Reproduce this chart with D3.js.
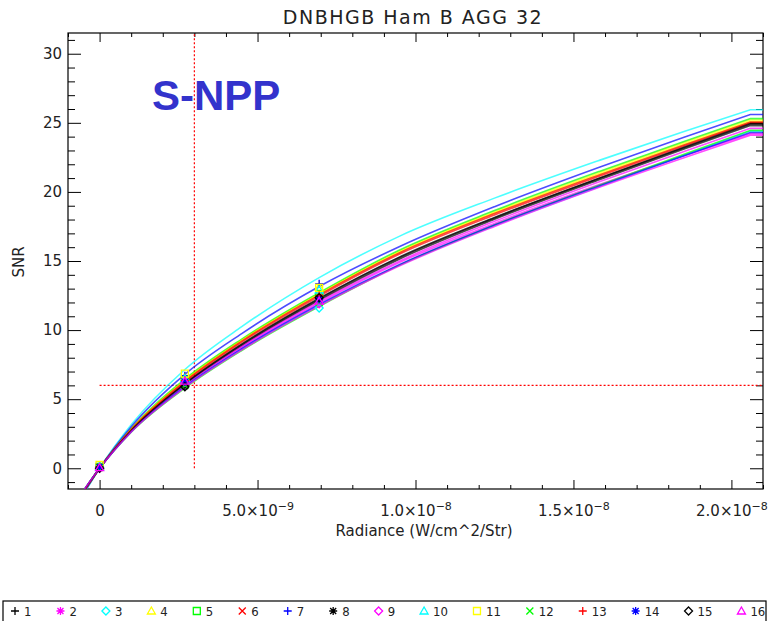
<!DOCTYPE html>
<html>
<head>
<meta charset="utf-8">
<script src="https://cdn.jsdelivr.net/npm/d3@7"></script>
<style>
  body { margin: 0; background: #fff; }
  svg { display: block; font-family: "DejaVu Sans", sans-serif; }
</style>
</head>
<body>
<div id="chart"></div>
<script>
var radiance = [-0.6e-9, 0, 1e-9, 2.7e-9, 4.5e-9, 6.95e-9, 9.5e-9, 12.5e-9, 15.84e-9, 18.5e-9, 20.6e-9];
// radiance of the measured points
var pointRadiance = [0, 2.7e-9, 6.95e-9];

var seriesNames = ["1", "2", "3", "4", "5", "6", "7", "8", "9", "10", "11", "12", "13", "14", "15", "16"];
var seriesColors = ["#000000", "#FF00FF", "#00FFFF", "#FFFF00", "#00FF00", "#FF0000", "#0000FF",
  "#000000", "#FF00FF", "#00FFFF", "#FFFF00", "#00FF00", "#FF0000", "#0000FF", "#000000", "#FF00FF"];
var seriesSymbols = ["plus", "asterisk", "diamond", "triangle", "square", "x", "plus", "asterisk",
  "diamond", "triangle", "square", "x", "plus", "asterisk", "diamond", "triangle"];

// fitted SNR, one row per series (values at the radiance samples above)
var fitSNR = [
  [-2.0, 0, 2.75, 6.15, 9.0, 12.3, 15.3, 18.15, 21.0, 23.2, 24.9],
  [-1.95, 0, 2.67, 5.95, 8.72, 11.95, 14.9, 17.72, 20.55, 22.62, 24.2],
  [-2.25, 0, 3.15, 7.15, 10.25, 13.8, 16.8, 19.55, 22.3, 24.38, 25.95],
  [-2.06, 0, 2.85, 6.4, 9.3, 12.65, 15.7, 18.55, 21.4, 23.55, 25.2],
  [-2.08, 0, 2.87, 6.45, 9.35, 12.7, 15.8, 18.65, 21.5, 23.65, 25.3],
  [-2.03, 0, 2.79, 6.25, 9.13, 12.45, 15.5, 18.33, 21.15, 23.33, 25.0],
  [-2.16, 0, 3.01, 6.8, 9.75, 13.15, 16.05, 18.93, 21.8, 23.95, 25.6],
  [-1.97, 0, 2.71, 6.05, 8.87, 12.15, 15.15, 18.02, 20.9, 23.1, 24.8],
  [-1.96, 0, 2.69, 6.0, 8.8, 12.05, 15.0, 17.87, 20.75, 22.92, 24.6],
  [-1.94, 0, 2.65, 5.9, 8.62, 11.8, 14.7, 17.55, 20.4, 22.65, 24.4],
  [-2.05, 0, 2.83, 6.35, 9.25, 12.6, 15.65, 18.48, 21.3, 23.45, 25.1],
  [-1.91, 0, 2.61, 5.8, 8.52, 11.7, 14.7, 17.6, 20.5, 22.72, 24.45],
  [-2.04, 0, 2.81, 6.3, 9.2, 12.55, 15.6, 18.43, 21.25, 23.4, 25.05],
  [-1.94, 0, 2.65, 5.9, 8.65, 11.85, 14.75, 17.6, 20.45, 22.62, 24.3],
  [-1.99, 0, 2.73, 6.1, 8.95, 12.25, 15.25, 18.12, 21.0, 23.23, 24.95],
  [-1.92, 0, 2.63, 5.85, 8.57, 11.75, 14.65, 17.5, 20.35, 22.47, 24.1]
];

// measured SNR points, one row per series
var pointSNR = [
  [0.1, 6.2, 12.4],
  [0.1, 6.3, 12.2],
  [0.05, 6.1, 11.6],
  [0.15, 6.6, 13.1],
  [0.1, 6.4, 12.6],
  [0.1, 6.3, 12.5],
  [0.2, 6.7, 13.35],
  [0.05, 5.95, 12.3],
  [0.0, 6.2, 11.9],
  [0.1, 6.5, 12.9],
  [0.25, 6.85, 13.05],
  [0.05, 6.0, 12.0],
  [0.1, 6.35, 12.5],
  [0.1, 6.25, 12.2],
  [0.0, 5.9, 12.35],
  [0.05, 6.3, 12.1]
];

var xMajorTicks = [0, 5e-9, 1e-8, 1.5e-8, 2e-8];
var yMajorTicks = [0, 5, 10, 15, 20, 25, 30];

// reference lines
var refRadiance = 3e-9;
var refSNR = 6;

var width = 769,
  height = 621;

var x = d3.scaleLinear().domain([-1e-9, 2.1e-8]).range([68, 763]);
var y = d3.scaleLinear().domain([-1.5, 31.5]).range([489, 33]);

var svg = d3
  .select("#chart")
  .append("svg")
  .attr("width", width)
  .attr("height", height);

svg
  .append("defs")
  .append("clipPath")
  .attr("id", "plotClip")
  .append("rect")
  .attr("x", x.range()[0])
  .attr("y", y.range()[1])
  .attr("width", x.range()[1] - x.range()[0])
  .attr("height", y.range()[0] - y.range()[1]);

//title
svg
  .append("text")
  .attr("x", 413)
  .attr("y", 24)
  .attr("text-anchor", "middle")
  .attr("font-size", "19px")
  .attr("letter-spacing", "1.5px")
  .attr("fill", "#222")
  .text("DNBHGB Ham B AGG 32");

//helper to style an axis group
function styleAxis(g) {
  g.select(".domain").remove();
  g.attr("font-family", "DejaVu Sans, sans-serif")
    .attr("font-size", "15px")
    .attr("color", "#000");
  g.selectAll(".tick text").attr("fill", "#222");
}

var xMinor = d3.range(-1, 22).filter(function(i) { return i % 5 !== 0; }).map(function(i) { return i * 1e-9; });
var yMinor = d3.range(-1, 32).filter(function(i) { return i % 5 !== 0; });

//bottom axis with superscript labels
var gx = svg
  .append("g")
  .attr("transform", "translate(0," + y.range()[0] + ")")
  .call(d3.axisBottom(x).tickValues(xMajorTicks).tickSize(-9).tickPadding(16).tickFormat(""))
  .call(styleAxis);

gx.selectAll(".tick text").each(function(d) {
  var t = d3.select(this);
  if (d === 0) {
    t.text("0");
    return;
  }
  var parts = d.toExponential(1).split("e");
  t.append("tspan").text(parts[0] + "×10");
  t.append("tspan")
    .attr("dy", "-0.55em")
    .attr("font-size", "11px")
    .text("\u2212" + (-parseInt(parts[1])));
});

svg
  .append("g")
  .attr("transform", "translate(0," + y.range()[0] + ")")
  .call(d3.axisBottom(x).tickValues(xMinor).tickSize(-4).tickFormat(""))
  .call(styleAxis);

//top mirror axis
svg
  .append("g")
  .attr("transform", "translate(0," + y.range()[1] + ")")
  .call(d3.axisTop(x).tickValues(xMajorTicks).tickSize(-9).tickFormat(""))
  .call(styleAxis);
svg
  .append("g")
  .attr("transform", "translate(0," + y.range()[1] + ")")
  .call(d3.axisTop(x).tickValues(xMinor).tickSize(-4).tickFormat(""))
  .call(styleAxis);

//left axis
svg
  .append("g")
  .attr("transform", "translate(" + x.range()[0] + ",0)")
  .call(d3.axisLeft(y).tickValues(yMajorTicks).tickSize(-13).tickPadding(6))
  .call(styleAxis);
svg
  .append("g")
  .attr("transform", "translate(" + x.range()[0] + ",0)")
  .call(d3.axisLeft(y).tickValues(yMinor).tickSize(-7).tickFormat(""))
  .call(styleAxis);

//right mirror axis
svg
  .append("g")
  .attr("transform", "translate(" + x.range()[1] + ",0)")
  .call(d3.axisRight(y).tickValues(yMajorTicks).tickSize(-13).tickFormat(""))
  .call(styleAxis);
svg
  .append("g")
  .attr("transform", "translate(" + x.range()[1] + ",0)")
  .call(d3.axisRight(y).tickValues(yMinor).tickSize(-7).tickFormat(""))
  .call(styleAxis);

//plot frame
svg
  .append("rect")
  .attr("x", x.range()[0])
  .attr("y", y.range()[1])
  .attr("width", x.range()[1] - x.range()[0])
  .attr("height", y.range()[0] - y.range()[1])
  .attr("fill", "none")
  .attr("stroke", "#000")
  .attr("stroke-width", 1.2);

//axis titles
svg
  .append("text")
  .attr("x", 424)
  .attr("y", 536)
  .attr("text-anchor", "middle")
  .attr("font-size", "15px")
  .attr("fill", "#222")
  .text("Radiance (W/cm^2/Str)");

svg
  .append("text")
  .attr("transform", "translate(24,262) rotate(-90)")
  .attr("text-anchor", "middle")
  .attr("font-size", "15px")
  .attr("fill", "#222")
  .text("SNR");

//red dotted reference lines
svg
  .append("line")
  .attr("x1", x(refRadiance))
  .attr("x2", x(refRadiance))
  .attr("y1", y(0))
  .attr("y2", y.range()[1])
  .attr("stroke", "#FF0000")
  .attr("stroke-width", 1.2)
  .attr("stroke-dasharray", "2,2");

svg
  .append("line")
  .attr("x1", x(0))
  .attr("x2", x.range()[1])
  .attr("y1", y(refSNR))
  .attr("y2", y(refSNR))
  .attr("stroke", "#FF0000")
  .attr("stroke-width", 1.2)
  .attr("stroke-dasharray", "2,2");

//fit curves, flat after the last sample up to the right edge
var line = d3
  .line()
  .x(function(d, i) { return x(radiance[i]); })
  .y(function(d) { return y(d); })
  .curve(d3.curveMonotoneX);

svg
  .append("g")
  .attr("clip-path", "url(#plotClip)")
  .selectAll(".fit")
  .data(fitSNR)
  .enter()
  .append("path")
  .attr("class", "fit")
  .attr("fill", "none")
  .attr("stroke", function(d, i) { return seriesColors[i]; })
  .attr("stroke-width", 1.6)
  .attr("stroke-opacity", 0.7)
  .attr("d", function(d) { return line(d) + "H" + x.range()[1]; });

//marker shapes (IDL psym style)
var symbolPath = {
  plus: "M-4,0H4M0,-4V4",
  asterisk: "M-4,0H4M0,-4V4M-3,-3L3,3M-3,3L3,-3",
  diamond: "M0,-4L4,0L0,4L-4,0Z",
  triangle: "M0,-4L4,3L-4,3Z",
  square: "M-3.5,-3.5H3.5V3.5H-3.5Z",
  x: "M-3.5,-3.5L3.5,3.5M-3.5,3.5L3.5,-3.5"
};

pointSNR.forEach(function(row, i) {
  svg
    .append("g")
    .selectAll("path")
    .data(row)
    .enter()
    .append("path")
    .attr("transform", function(d, j) {
      return "translate(" + x(pointRadiance[j]) + "," + y(d) + ")";
    })
    .attr("d", symbolPath[seriesSymbols[i]])
    .attr("fill", "none")
    .attr("stroke", seriesColors[i])
    .attr("stroke-width", 1.3);
});

//S-NPP label
svg
  .append("text")
  .attr("x", 152)
  .attr("y", 110)
  .attr("font-family", "Liberation Sans, Arial, sans-serif")
  .attr("font-weight", "bold")
  .attr("font-size", "42px")
  .attr("fill", "#3333CC")
  .text("S-NPP");

//legend
var legend = svg.append("g");
legend
  .append("rect")
  .attr("x", 3)
  .attr("y", 601)
  .attr("width", 763)
  .attr("height", 40)
  .attr("fill", "none")
  .attr("stroke", "#000")
  .attr("stroke-width", 1.2);

var lx = 15;
seriesNames.forEach(function(name, i) {
  legend
    .append("path")
    .attr("transform", "translate(" + lx + ",611)")
    .attr("d", symbolPath[seriesSymbols[i]])
    .attr("fill", "none")
    .attr("stroke", seriesColors[i])
    .attr("stroke-width", 1.3);
  var t = legend
    .append("text")
    .attr("x", lx + 9)
    .attr("y", 615.5)
    .attr("font-family", "DejaVu Sans Condensed, DejaVu Sans, sans-serif")
    .attr("font-size", "13px")
    .attr("fill", "#222")
    .text(name);
  lx += 9 + t.node().getComputedTextLength() + 29;
});
</script>
</body>
</html>
